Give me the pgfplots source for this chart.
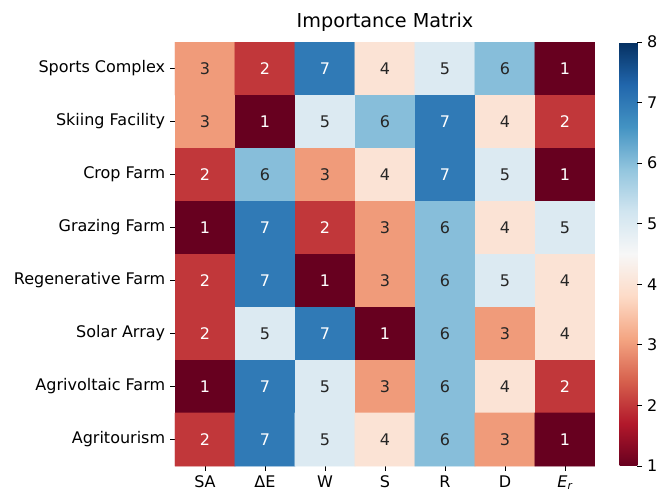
\documentclass[border=0pt]{standalone}
\usepackage{fontspec}
\setmainfont{DejaVu Sans}
\usepackage{pgfplots}
\usepackage{pgfplotstable}
\pgfplotsset{compat=1.18}

\definecolor{annot}{RGB}{38,38,38}

% importance ranks: column index, row index, value
\pgfplotstableread{
x y v
0 0 3
1 0 2
2 0 7
3 0 4
4 0 5
5 0 6
6 0 1
0 1 3
1 1 1
2 1 5
3 1 6
4 1 7
5 1 4
6 1 2
0 2 2
1 2 6
2 2 3
3 2 4
4 2 7
5 2 5
6 2 1
0 3 1
1 3 7
2 3 2
3 3 3
4 3 6
5 3 4
6 3 5
0 4 2
1 4 7
2 4 1
3 4 3
4 4 6
5 4 5
6 4 4
0 5 2
1 5 5
2 5 7
3 5 1
4 5 6
5 5 3
6 5 4
0 6 1
1 6 7
2 6 5
3 6 3
4 6 6
5 6 4
6 6 2
0 7 2
1 7 7
2 7 5
3 7 4
4 7 6
5 7 3
6 7 1
}\ranks

\begin{document}
\begin{tikzpicture}
\path[use as bounding box] (-131.25pt,-20.25pt) rectangle (366.75pt,349.5pt);
\begin{axis}[
  at={(0,0)}, anchor=south west,
  scale only axis,
  width=315pt, height=318pt,
  xmin=-0.5, xmax=6.5, ymin=-0.5, ymax=7.5,
  y dir=reverse,
  axis line style={draw=none},
  font=\fontsize{12}{14.4}\selectfont,
  /pgf/number format/assume math mode=true,
  title={Importance Matrix},
  title style={font=\fontsize{14.4}{17}\selectfont, anchor=base, at={(0.5,1)}, yshift=5pt},
  xtick={0,...,6},
  xticklabels={SA,ΔE,W,S,R,D,{\itshape E\textsubscript{r}}},
  ytick={0,...,7},
  yticklabels={Sports Complex,Skiing Facility,Crop Farm,Grazing Farm,Regenerative Farm,Solar Array,Agrivoltaic Farm,Agritourism},
  xtick pos=bottom, ytick pos=left,
  tick align=outside,
  major tick length=3.6pt,
  tick style={black, line width=0.6pt},
  xticklabel style={inner sep=0pt, yshift=-3.6pt, anchor=north},
  yticklabel style={inner sep=0pt, xshift=-3.6pt, anchor=east},
  colormap={rdbu}{rgb255=(103,0,31) rgb255=(178,24,43) rgb255=(214,96,77)
    rgb255=(244,165,130) rgb255=(253,219,199) rgb255=(247,247,247)
    rgb255=(209,229,240) rgb255=(146,197,222) rgb255=(67,147,195)
    rgb255=(33,102,172) rgb255=(5,48,97)},
  point meta min=1, point meta max=8,
  colorbar,
  colorbar style={
    at={(parent axis.north east)}, anchor=north west, xshift=10pt,
    width=13.2pt,
    axis line style={draw=none},
    ytick={1,...,8},
    ytick pos=right,
    tick align=outside,
    major tick length=3.6pt,
    tick style={black, line width=0.6pt},
    yticklabel style={inner sep=0pt, xshift=3.6pt, anchor=west},
    font=\fontsize{12}{14.4}\selectfont,
    /pgf/number format/assume math mode=true,
  },
]
\addplot[
  matrix plot*,
  mesh/cols=7,
  point meta=explicit,
  visualization depends on={\thisrow{v} \as \val},
  nodes near coords={\ifdim\val pt<2.5pt \color{white}\else\ifdim\val pt>6.5pt \color{white}\else\color{annot}\fi\fi\pgfmathprintnumber{\val}},
  nodes near coords style={anchor=center, font=\fontsize{12}{14.4}\selectfont},
] table[x=x, y=y, meta=v] {\ranks};
\end{axis}
\end{tikzpicture}
\end{document}
